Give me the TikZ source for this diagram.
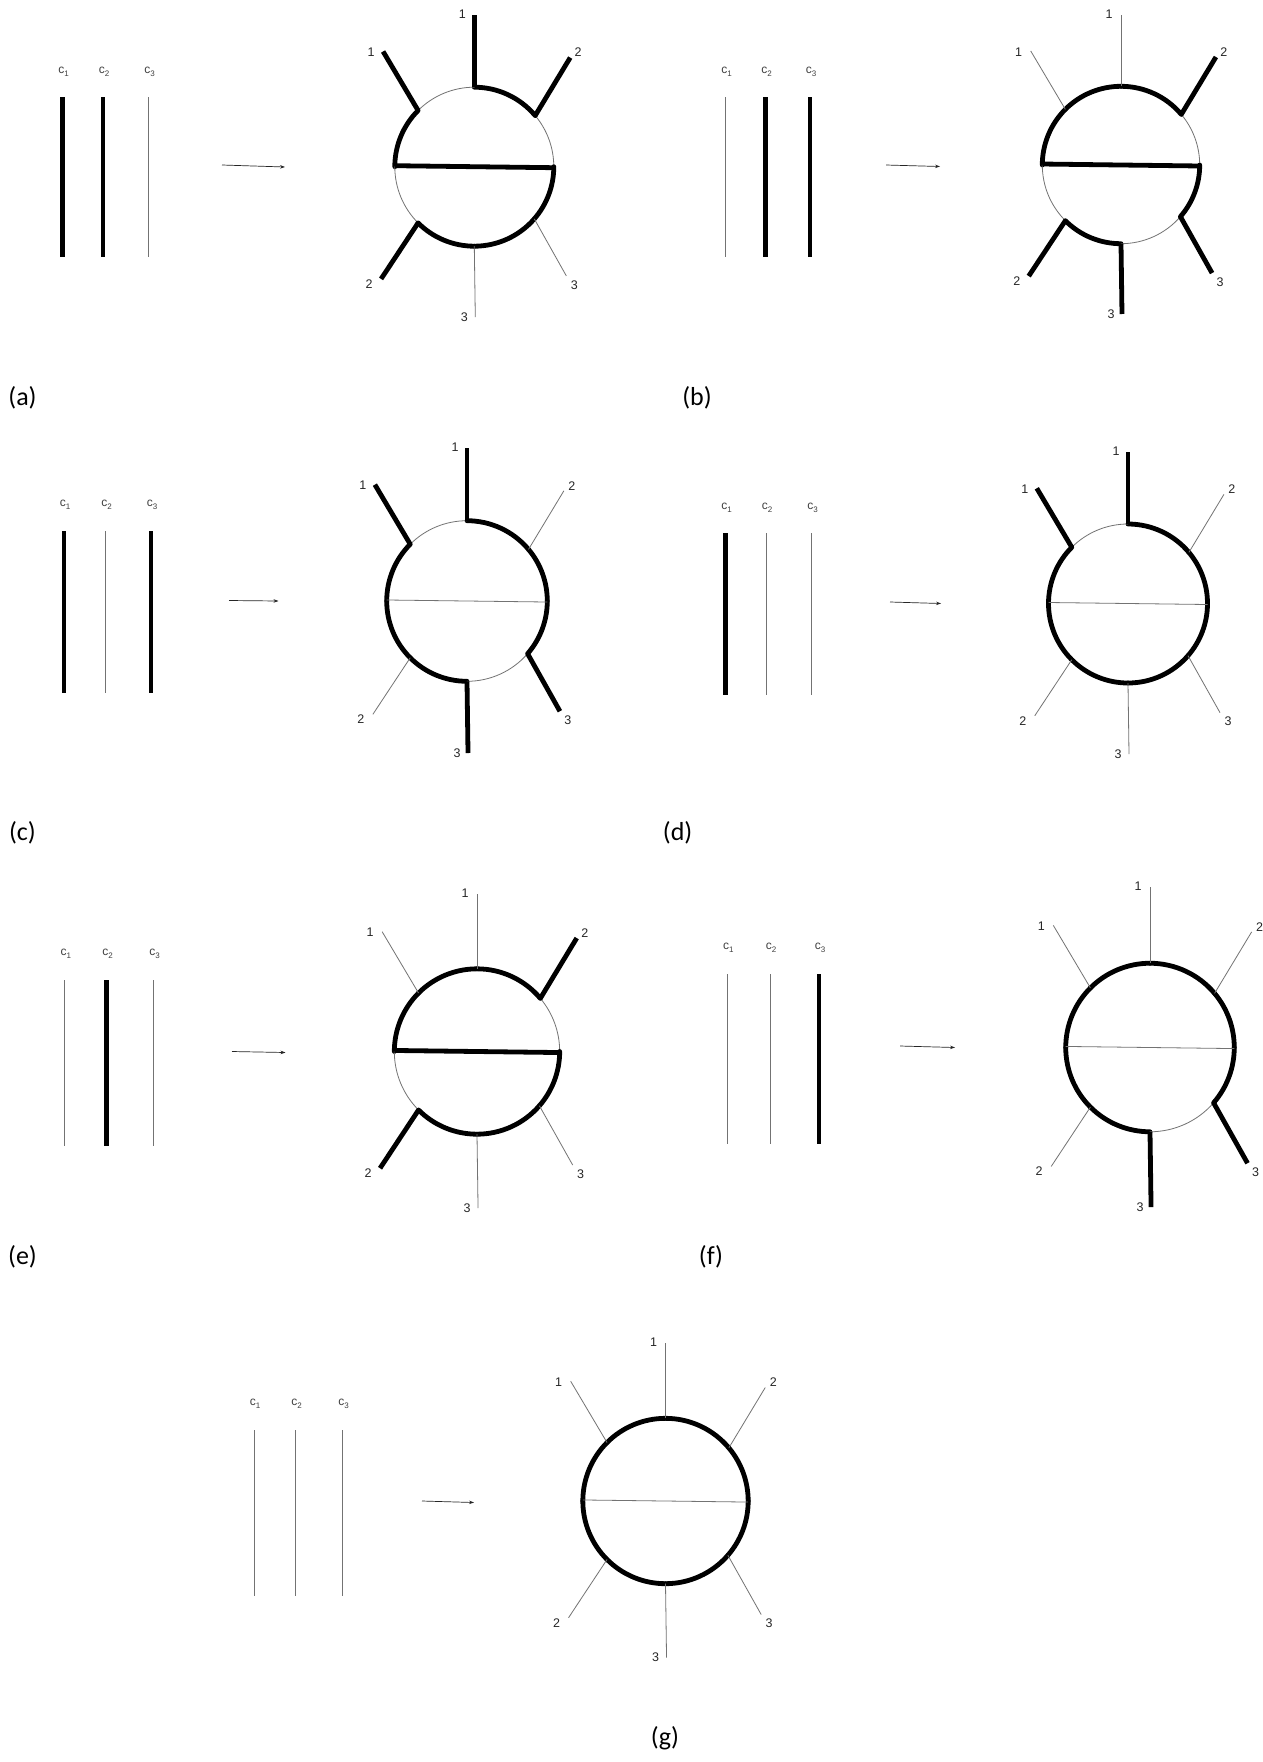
\documentclass[tikz,border=0pt]{standalone}
\usepackage{fontspec}
\setmainfont{Carlito}
\newfontfamily\labfont{Liberation Sans}
\usetikzlibrary{arrows.meta}
\tikzset{
  hvy/.style={line width=4.8pt, draw=black},
  lgt/.style={line width=0.8pt, draw=black!55},
  arr/.style={line width=0.7pt, draw=black!85, -{Stealth[length=5pt,width=3.5pt]}},
  num/.style={font=\labfont\fontsize{12.5}{12.5}\selectfont, text=black!85, inner sep=0pt},
  clab/.style={font=\labfont\fontsize{12}{12}\selectfont, text=black!75, inner sep=0pt},
  plab/.style={font=\fontsize{26}{26}\selectfont, inner sep=0pt, text=black},
}
\newcommand\csub[1]{\raisebox{-3pt}{\fontsize{8}{8}\selectfont #1}}
\def\spokeparse#1,#2,#3,#4,#5,#6\relax{\def\sTop{#1}\def\sUL{#2}\def\sUR{#3}\def\sLL{#4}\def\sLR{#5}\def\sBot{#6}}
% #1 prefix, #2 centre, #3 scale, #4 arc styles (8), #5 bar style, #6 spoke styles (6)
\newcommand\newmanproj[6]{%
  \spokeparse#6\relax
  \begin{scope}[shift={#2}, yscale=-1, scale=#3]
    \foreach \s [count=\i from 0] in {#4} {
      \pgfmathsetmacro\angA{{0,40,90,135,180,225,270,319}[\i]}
      \pgfmathsetmacro\angB{{40,90,135,180,225,270,319,360}[\i]}
      \draw[\s, line cap=round] (\angA:79.5) arc[start angle=\angA, end angle=\angB, radius=79.5];
    }
    \draw[#5] (-79.5,1) -- (79.5,-1);
    \draw[\sTop] (90:79.5) -- ++(0,72) coordinate (#1-et);
    \draw[\sUL] (135:79.5) -- ++(-35,59) coordinate (#1-eul);
    \draw[\sUR] (40:79.5) -- ++(35,58) coordinate (#1-eur);
    \draw[\sLL] (225:79.5) -- ++(-37,-56) coordinate (#1-ell);
    \draw[\sLR] (319:79.5) -- ++(32,-57) coordinate (#1-elr);
    \draw[\sBot] (270:79.5) -- ++(1,-71) coordinate (#1-eb);
  \end{scope}
  \node[num, xshift=-12pt, yshift=1pt] (#1-nt) at (#1-et) {1};
  \node[num, xshift=-12pt, yshift=-1pt] (#1-nul) at (#1-eul) {1};
  \node[num, xshift=8pt, yshift=5pt] (#1-nur) at (#1-eur) {2};
  \node[num, xshift=-12pt, yshift=-5pt] (#1-nll) at (#1-ell) {2};
  \node[num, xshift=8pt, yshift=-9pt] (#1-nlr) at (#1-elr) {3};
  \node[num, xshift=-11pt] (#1-nb) at (#1-eb) {3};
}
% #1 prefix, #2 top, #3 bottom, #4 label y, #5 list x/style/index
\newcommand\carbons[5]{%
  \foreach \x/\s/\k in {#5} {
    \draw[\s] (\x,#2) -- (\x,#3);
    \node[clab] (#1-c\k) at (\x+1,#4) {c\csub{\k}};
  }
}
\begin{document}
\begin{tikzpicture}[x=1pt,y=-1pt]
\fill[white] (0,0) rectangle (1262,1762);
\useasboundingbox (0,0) rectangle (1262,1762);

% (a)
\carbons{a}{97}{257}{72}{62.7/hvy/1, 103/hvy/2, 148.7/lgt/3}
\coordinate (a-a1) at (222,165); \coordinate (a-a2) at (285,167);
\draw[arr] (a-a1) -- (a-a2);
\newmanproj{a}{(474.3,166.7)}{1.0}{lgt,hvy,lgt,hvy,lgt,hvy,hvy,hvy}{hvy}{hvy,hvy,hvy,hvy,lgt,lgt}
\node[plab] (a-lab) at (22.5,398) {(a)};

% (b)
\carbons{b}{97}{257}{72}{725.5/lgt/1, 765.5/hvy/2, 810/hvy/3}
\coordinate (b-a1) at (886,165); \coordinate (b-a2) at (940,166.5);
\draw[arr] (b-a1) -- (b-a2);
\newmanproj{b}{(1121,165)}{0.99}{lgt,hvy,hvy,hvy,lgt,hvy,lgt,hvy}{hvy}{lgt,lgt,hvy,hvy,hvy,hvy}
\node[plab] (b-lab) at (697,398) {(b)};

% (c)
\carbons{c}{531}{693}{505}{64/hvy/1, 105.5/lgt/2, 151/hvy/3}
\coordinate (c-a1) at (229,600.5); \coordinate (c-a2) at (278.5,601);
\draw[arr] (c-a1) -- (c-a2);
\newmanproj{c}{(467,601)}{1.01}{hvy,hvy,lgt,hvy,hvy,hvy,lgt,hvy}{lgt}{hvy,hvy,lgt,lgt,hvy,hvy}
\node[plab] (c-lab) at (22.5,832.7) {(c)};

% (d)
\carbons{d}{533}{695}{508}{725.5/hvy/1, 766/lgt/2, 811.5/lgt/3}
\coordinate (d-a1) at (890,602); \coordinate (d-a2) at (941,603.5);
\draw[arr] (d-a1) -- (d-a2);
\newmanproj{d}{(1128,603.5)}{1.0}{hvy,hvy,lgt,hvy,hvy,hvy,hvy,hvy}{lgt}{hvy,hvy,lgt,lgt,lgt,lgt}
\node[plab] (d-lab) at (677.6,832.7) {(d)};

% (e)
\carbons{e}{980}{1146}{954}{64.8/lgt/1, 106.5/hvy/2, 153.5/lgt/3}
\coordinate (e-a1) at (232,1051.5); \coordinate (e-a2) at (285.5,1052.5);
\draw[arr] (e-a1) -- (e-a2);
\newmanproj{e}{(477,1051.5)}{1.04}{lgt,hvy,hvy,hvy,lgt,hvy,hvy,hvy}{hvy}{lgt,lgt,hvy,hvy,lgt,lgt}
\node[plab] (e-lab) at (22.5,1256.4) {(e)};

% (f)
\carbons{f}{974}{1144}{948}{727.4/lgt/1, 770/lgt/2, 819/hvy/3}
\coordinate (f-a1) at (900,1046); \coordinate (f-a2) at (955,1047.5);
\draw[arr] (f-a1) -- (f-a2);
\newmanproj{f}{(1150,1047.5)}{1.06}{hvy,hvy,hvy,hvy,hvy,hvy,lgt,hvy}{lgt}{lgt,lgt,lgt,lgt,hvy,hvy}
\node[plab] (f-lab) at (711,1256.4) {(f)};

% (g)
\carbons{g}{1430}{1596}{1404}{254/lgt/1, 295.5/lgt/2, 342.7/lgt/3}
\coordinate (g-a1) at (422,1501); \coordinate (g-a2) at (474,1502.5);
\draw[arr] (g-a1) -- (g-a2);
\newmanproj{g}{(665.5,1501)}{1.04}{hvy,hvy,hvy,hvy,hvy,hvy,hvy,hvy}{lgt}{lgt,lgt,lgt,lgt,lgt,lgt}
\node[plab] (g-lab) at (665,1738.5) {(g)};
\end{tikzpicture}
\end{document}
